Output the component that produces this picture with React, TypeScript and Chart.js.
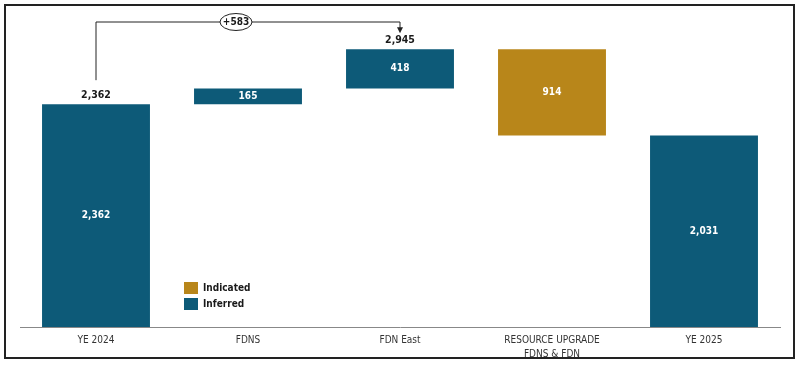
import React, { useEffect, useRef } from "react";
import { Chart, registerables } from "chart.js";

Chart.register(...registerables);

const categories: (string | string[])[] = ["YE 2024", "FDNS", "FDN East", ["RESOURCE UPGRADE", "FDNS & FDN"], "YE 2025"];
const barStarts = [0, 2362, 2527, 2031, 0];
const barEnds = [2362, 2527, 2945, 2945, 2031];
const barLabels = ["2,362", "165", "418", "914", "2,031"];
const topLabels = ["2,362", "", "2,945", "", ""];
const barKinds = ["Inferred", "Inferred", "Inferred", "Indicated", "Inferred"];
const legendItems = ["Indicated", "Inferred"];
const bridgeLabel = "+583";
const bridgeFrom = 0;
const bridgeTo = 2;

const COLORS: Record<string, string> = { Inferred: "#0D5A78", Indicated: "#B8861A" };
const FONT = "'Liberation Sans Narrow', 'DejaVu Sans Condensed', 'Liberation Sans', sans-serif";

const overlayPlugin = {
  id: "overlay",
  afterDatasetsDraw(chart: any) {
    const ctx = chart.ctx;
    const meta = chart.getDatasetMeta(0);
    const y = chart.scales.y;
    ctx.save();
    // frame
    ctx.strokeStyle = "#222";
    ctx.lineWidth = 2;
    ctx.strokeRect(5, 5, 789, 353);

    // labels inside bars
    ctx.textAlign = "center";
    ctx.textBaseline = "middle";
    meta.data.forEach((bar: any, i: number) => {
      const mid = (y.getPixelForValue(barStarts[i]) + y.getPixelForValue(barEnds[i])) / 2;
      ctx.fillStyle = "#ffffff";
      ctx.font = `bold 10px ${FONT}`;
      ctx.fillText(barLabels[i], bar.x, mid);
      if (topLabels[i]) {
        ctx.fillStyle = "#1a1a1a";
        ctx.font = `bold 10.5px ${FONT}`;
        ctx.fillText(topLabels[i], bar.x, y.getPixelForValue(barEnds[i]) - 9);
      }
    });

    // bridge line
    const x1 = meta.data[bridgeFrom].x;
    const x2 = meta.data[bridgeTo].x;
    const topY = 22;
    const y1 = y.getPixelForValue(barEnds[bridgeFrom]) - 24;
    const tipY = y.getPixelForValue(barEnds[bridgeTo]) - 16;
    ctx.strokeStyle = "#222";
    ctx.lineWidth = 1;
    ctx.beginPath();
    ctx.moveTo(x1, y1);
    ctx.lineTo(x1, topY);
    ctx.lineTo(x2, topY);
    ctx.lineTo(x2, tipY - 5);
    ctx.stroke();
    ctx.fillStyle = "#222";
    ctx.beginPath();
    ctx.moveTo(x2 - 3, tipY - 6);
    ctx.lineTo(x2 + 3, tipY - 6);
    ctx.lineTo(x2, tipY);
    ctx.closePath();
    ctx.fill();
    // ellipse label
    const ex = 236;
    ctx.fillStyle = "#fff";
    ctx.beginPath();
    ctx.ellipse(ex, topY, 16, 8.5, 0, 0, Math.PI * 2);
    ctx.fill();
    ctx.stroke();
    ctx.fillStyle = "#1a1a1a";
    ctx.font = `bold 10px ${FONT}`;
    ctx.fillText(bridgeLabel, ex, topY + 0.5);

    // legend
    ctx.textAlign = "left";
    legendItems.forEach((name, k) => {
      const ly = 282 + k * 16;
      ctx.fillStyle = COLORS[name];
      ctx.fillRect(184, ly, 14, 12);
      ctx.fillStyle = "#1a1a1a";
      ctx.font = `bold 10px ${FONT}`;
      ctx.fillText(name, 203, ly + 6.5);
    });
    ctx.restore();
  },
};

export default function App() {
  const ref = useRef<HTMLCanvasElement>(null);
  useEffect(() => {
    if (!ref.current) return;
    const chart = new Chart(ref.current, {
      type: "bar",
      data: {
        labels: categories as any,
        datasets: [
          {
            data: barStarts.map((s, i) => [s, barEnds[i]]) as any,
            backgroundColor: barKinds.map((k) => COLORS[k]),
            borderWidth: 0,
            barPercentage: 0.71,
            categoryPercentage: 1,
          },
        ],
      },
      options: {
        responsive: false,
        animation: false,
        layout: { padding: { left: 20, right: 20, top: 44, bottom: 0 } },
        plugins: { legend: { display: false }, tooltip: { enabled: false } },
        scales: {
          x: {
            grid: { display: false },
            border: { display: true, color: "#888", width: 1 },
            ticks: { color: "#333", font: { family: FONT, size: 10, lineHeight: 1.4 }, padding: -2, maxRotation: 0 },
            afterFit: (s: any) => {
              s.height = 40;
            },
          },
          y: { display: false, min: 0, max: 3000 },
        },
      },
      plugins: [overlayPlugin],
    });
    return () => chart.destroy();
  }, []);
  return (
    <div style={{ position: "fixed", left: 0, top: 0, width: 800, height: 367, background: "#fff" }}>
      <canvas ref={ref} width={800} height={367} />
    </div>
  );
}
